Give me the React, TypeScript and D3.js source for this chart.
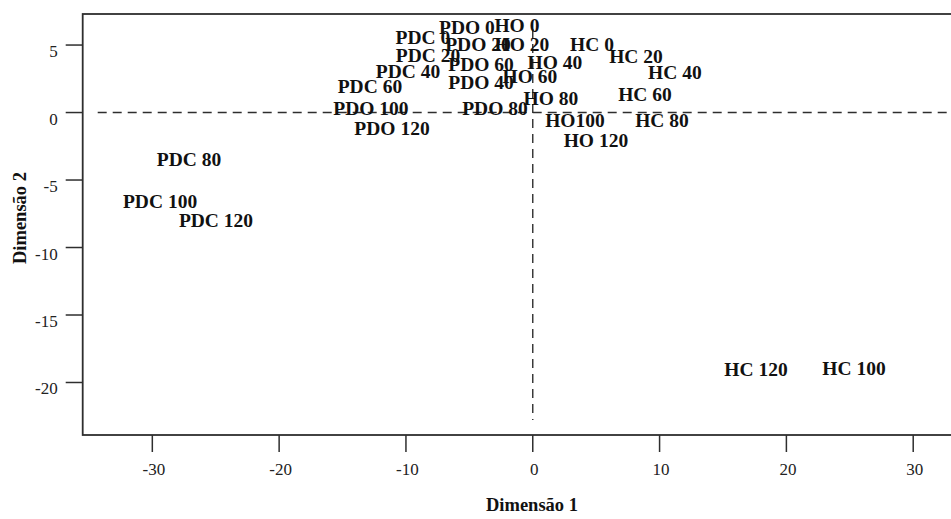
import React from "react";
import * as d3 from "d3";

// Category labels and their coordinates on the two dimensions
const labels: string[] = [
  "PDC 0", "PDO 0", "HO 0", "PDO 20", "HO 20", "HC 0", "PDC 20", "HC 20",
  "PDO 60", "HO 40", "PDC 40", "HC 40", "HO 60", "PDO 40", "PDC 60", "HC 60",
  "HO 80", "PDO 100", "PDO 80", "HO100", "HC 80", "PDO 120", "HO 120",
  "PDC 80", "PDC 100", "PDC 120", "HC 120", "HC 100",
];
const dim1: number[] = [
  -8.66, -5.19, -1.25, -4.32, -0.85, 4.67, -8.26, 8.14,
  -4.08, 1.75, -9.84, 11.21, -0.22, -4.08, -12.84, 8.85,
  1.43, -12.76, -2.98, 3.33, 10.19, -11.1, 4.98,
  -27.11, -29.39, -24.98, 17.6, 25.33,
];
const dim2: number[] = [
  5.52, 6.26, 6.48, 5.0, 5.0, 5.0, 4.19, 4.11,
  3.52, 3.67, 3.0, 2.93, 2.7, 2.19, 1.89, 1.3,
  1.0, 0.26, 0.26, -0.56, -0.56, -1.22, -2.11,
  -3.52, -6.56, -8.04, -19.07, -19.0,
];

const xTicks: number[] = [-30, -20, -10, 0, 10, 20, 30];
const yTicks: number[] = [5, 0, -5, -10, -15, -20];
const xTitle = "Dimensão 1";
const yTitle = "Dimensão 2";

const W = 951;
const H = 519;
const frame = { left: 82.7, top: 14, right: 960, bottom: 435 };
const tickLen = 17;
const ink = "#2e2e2e";
const serif = "'Liberation Serif', 'Times New Roman', serif";

export default function App() {
  const x = d3.scaleLinear().domain([-35.49, 33.69]).range([frame.left, frame.right]);
  const y = d3.scaleLinear().domain([-23.89, 7.3]).range([frame.bottom, frame.top]);
  const labelSize = 19.5;

  return (
    <svg
      width={W}
      height={H}
      style={{ position: "absolute", left: 0, top: 0, background: "#fff" }}
    >
      <rect x={0} y={0} width={W} height={H} fill="#fff" />

      {/* reference lines through the origin */}
      <line
        x1={frame.left + 15}
        x2={frame.right}
        y1={y(0)}
        y2={y(0)}
        stroke={ink}
        strokeWidth={1.4}
        strokeDasharray="9 6"
      />
      <line
        x1={x(0)}
        x2={x(0)}
        y1={frame.top + 15}
        y2={frame.bottom - 15}
        stroke={ink}
        strokeWidth={1.4}
        strokeDasharray="9 6"
      />

      {/* plot frame */}
      <rect
        x={frame.left}
        y={frame.top}
        width={frame.right - frame.left}
        height={frame.bottom - frame.top}
        fill="none"
        stroke={ink}
        strokeWidth={1.8}
      />

      {/* x axis */}
      {xTicks.map((t) => (
        <g key={`x${t}`}>
          <line
            x1={x(t)}
            x2={x(t)}
            y1={frame.bottom}
            y2={frame.bottom + tickLen}
            stroke={ink}
            strokeWidth={1.5}
          />
          <text
            x={x(t) + 1.5}
            y={frame.bottom + 40}
            textAnchor="middle"
            fontFamily={serif}
            fontSize={17}
            fill="#222"
          >
            {t}
          </text>
        </g>
      ))}

      {/* y axis */}
      {yTicks.map((t) => (
        <g key={`y${t}`}>
          <line
            x1={frame.left - tickLen}
            x2={frame.left}
            y1={y(t)}
            y2={y(t)}
            stroke={ink}
            strokeWidth={1.5}
          />
          <text
            x={frame.left - tickLen - 8}
            y={y(t) + 12}
            textAnchor="end"
            fontFamily={serif}
            fontSize={17}
            fill="#222"
          >
            {t}
          </text>
        </g>
      ))}

      {/* axis titles */}
      <text
        x={532}
        y={511}
        textAnchor="middle"
        fontFamily={serif}
        fontWeight="bold"
        fontSize={18.5}
        fill="#111"
      >
        {xTitle}
      </text>
      <text
        transform={`translate(26,218) rotate(-90)`}
        textAnchor="middle"
        fontFamily={serif}
        fontWeight="bold"
        fontSize={18.5}
        fill="#111"
      >
        {yTitle}
      </text>

      {/* category labels */}
      {labels.map((lab, i) => (
        <text
          key={lab}
          x={x(dim1[i])}
          y={y(dim2[i]) + labelSize * 0.33}
          textAnchor="middle"
          fontFamily={serif}
          fontWeight="bold"
          fontSize={labelSize}
          fill="#111"
        >
          {lab}
        </text>
      ))}
    </svg>
  );
}
